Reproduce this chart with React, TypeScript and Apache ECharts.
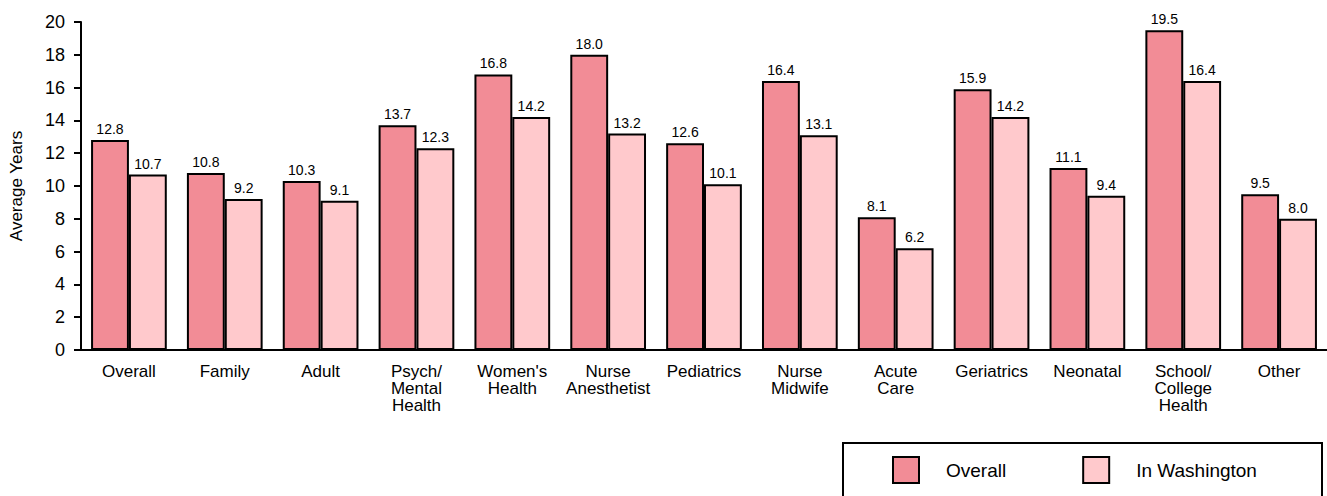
import React, { useEffect, useRef } from "react";
import * as echarts from "echarts";

const categories = [
  "Overall",
  "Family",
  "Adult",
  "Psych/\nMental\nHealth",
  "Women's\nHealth",
  "Nurse\nAnesthetist",
  "Pediatrics",
  "Nurse\nMidwife",
  "Acute\nCare",
  "Geriatrics",
  "Neonatal",
  "School/\nCollege\nHealth",
  "Other",
];
const overallValues = [12.8, 10.8, 10.3, 13.7, 16.8, 18.0, 12.6, 16.4, 8.1, 15.9, 11.1, 19.5, 9.5];
const washingtonValues = [10.7, 9.2, 9.1, 12.3, 14.2, 13.2, 10.1, 13.1, 6.2, 14.2, 9.4, 16.4, 8.0];
const seriesNames = ["Overall", "In Washington"];
const colors = ["#F28C96", "#FFC9CC"];

const FONT = "'Liberation Sans', Arial, sans-serif";

export default function App() {
  const ref = useRef<HTMLDivElement>(null);
  useEffect(() => {
    if (!ref.current) return;
    const chart = echarts.init(ref.current, undefined, { renderer: "svg" });
    const mk = (name: string, data: number[], color: string) => ({
      name,
      type: "bar",
      data,
      barGap: "0%",
      barCategoryGap: "21%",
      itemStyle: { color, borderColor: "#000", borderWidth: 2 },
      label: {
        show: true,
        position: "top",
        distance: 4,
        formatter: (p: any) => p.value.toFixed(1),
        color: "#000",
        fontSize: 14,
        fontFamily: FONT,
      },
    });
    chart.setOption({
      animation: false,
      textStyle: { fontFamily: FONT },
      grid: { left: 80, right: -1, top: 22, height: 328 },
      xAxis: {
        type: "category",
        data: categories,
        axisLine: { lineStyle: { color: "#000", width: 2 } },
        axisTick: { show: false },
        axisLabel: {
          color: "#000",
          fontSize: 17,
          fontFamily: FONT,
          margin: 13,
          lineHeight: 17,
          interval: 0,
        },
      },
      yAxis: {
        type: "value",
        min: 0,
        max: 20,
        interval: 2,
        name: "Average Years",
        nameLocation: "middle",
        nameGap: 56,
        nameTextStyle: { color: "#000", fontSize: 17, fontFamily: FONT },
        axisLine: { show: true, lineStyle: { color: "#000", width: 2 } },
        axisTick: { show: true, length: 7, lineStyle: { color: "#000", width: 2 } },
        axisLabel: { color: "#000", fontSize: 18, fontFamily: FONT, margin: 16 },
        splitLine: { show: false },
      },
      legend: {
        data: seriesNames,
        left: 887,
        top: 451,
        itemWidth: 26,
        itemHeight: 26,
        itemGap: 76,
        icon: "rect",
        itemStyle: { borderColor: "#000", borderWidth: 2 },
        textStyle: { color: "#000", fontSize: 19, fontFamily: FONT, padding: [0, 0, 0, 22] },
      },
      graphic: [
        {
          type: "rect",
          shape: { x: 843, y: 443, width: 479, height: 70 },
          style: { fill: "none", stroke: "#000", lineWidth: 2 },
          z: 0,
        },
      ],
      series: [
        mk(seriesNames[0], overallValues, colors[0]),
        mk(seriesNames[1], washingtonValues, colors[1]),
      ],
    });
    return () => chart.dispose();
  }, []);
  return <div ref={ref} style={{ width: 1327, height: 496, position: "absolute", left: 0, top: 0 }} />;
}
